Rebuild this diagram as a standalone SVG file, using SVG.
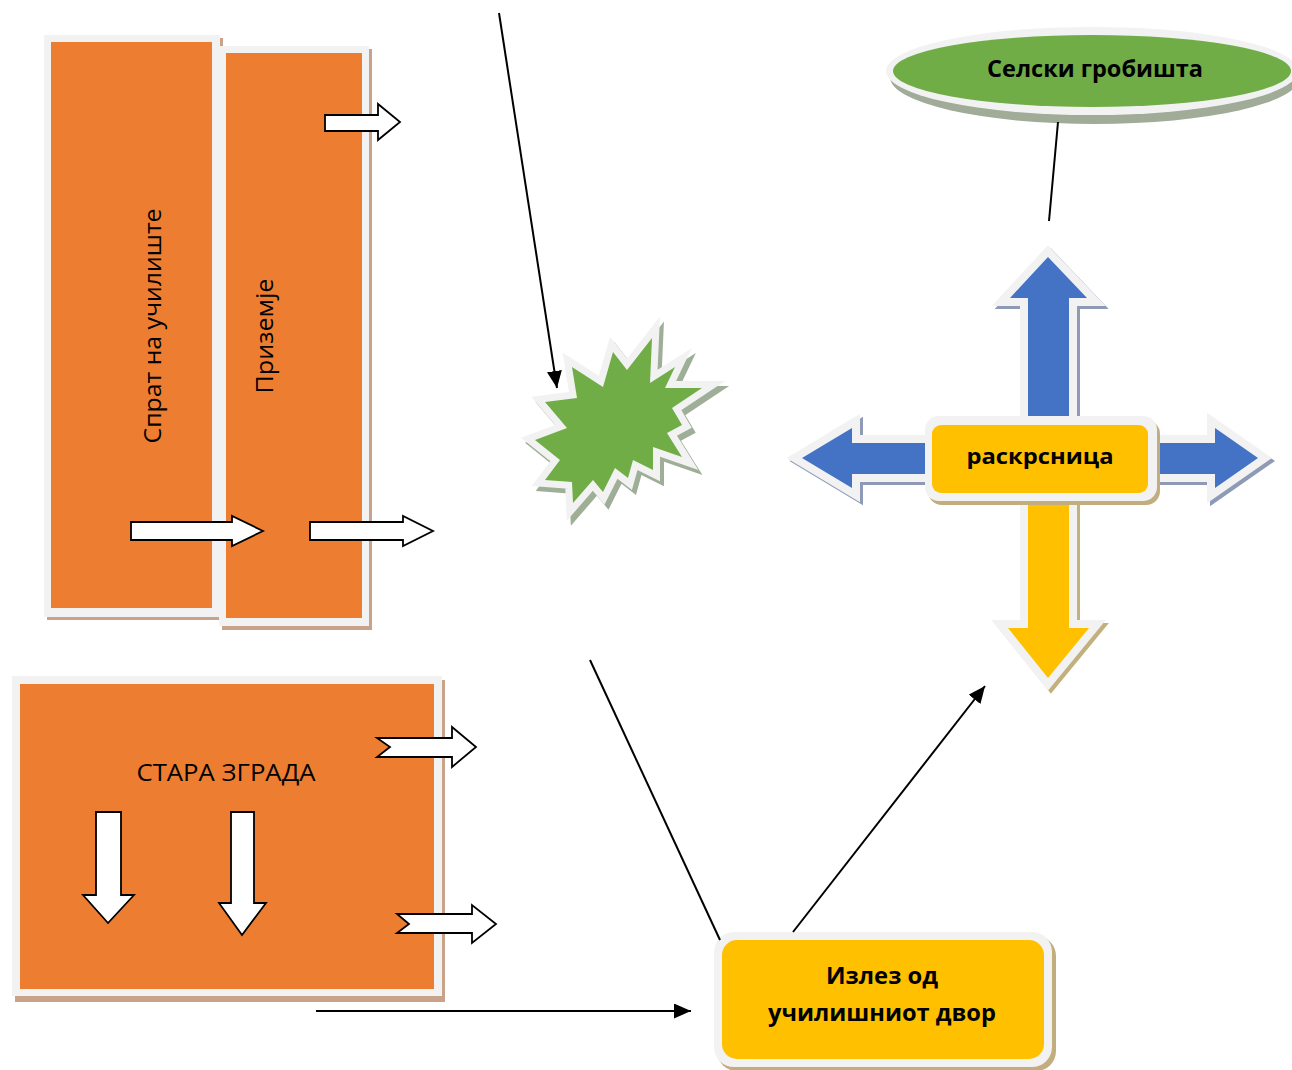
<svg xmlns="http://www.w3.org/2000/svg" width="1292" height="1070" viewBox="0 0 1292 1070">
<defs>
<style>
.bd{fill:#f2f2f2}
.or{fill:#ed7d31}
.osh{fill:#c9a28a}
.wa{fill:#ffffff;stroke:#000000;stroke-width:1.8;stroke-linejoin:miter}
.t{font-family:"Open Sans","Noto Sans","Liberation Sans",sans-serif;fill:#000000}
.b{font-weight:bold}
.ln{stroke:#000000;stroke-width:2;fill:none}
.blue{fill:#4472c4}
.yel{fill:#ffc000}
.brd{fill:none;stroke:#f2f2f2;stroke-width:16;stroke-linejoin:miter;stroke-miterlimit:10}
</style>
<marker id="ah" markerUnits="userSpaceOnUse" markerWidth="17" markerHeight="15" refX="17" refY="7.5" orient="auto" viewBox="0 0 17 15">
<path d="M0,0 L17,7.5 L0,15 z" fill="#000000"/>
</marker>
</defs>

<g id="sprat">
<rect class="osh" x="47" y="38" width="176" height="582"/>
<rect class="bd" x="44" y="35" width="176" height="582"/>
<rect class="or" x="51" y="42" width="161" height="566"/>
<text class="t" transform="translate(161,326) rotate(-90)" text-anchor="middle" font-size="24" textLength="235" lengthAdjust="spacingAndGlyphs">Спрат на училиште</text>
</g>

<g id="prizemje">
<rect class="osh" x="222" y="49" width="150" height="581"/>
<rect class="bd" x="219" y="46" width="150" height="580"/>
<rect class="or" x="226" y="53" width="136" height="565"/>
<text class="t" transform="translate(273,336) rotate(-90)" text-anchor="middle" font-size="24" textLength="115" lengthAdjust="spacingAndGlyphs">Приземје</text>
</g>

<g id="arrows-upper">
<polygon class="wa" points="325,115 378,115 378,104 400,122 378,140 378,131 325,131"/>
<polygon class="wa" points="131,522 232,522 232,516 263,531 232,546 232,540 131,540"/>
<polygon class="wa" points="310,522 403,522 403,516 433,531 403,546 403,540 310,540"/>
</g>

<g id="stara">
<rect class="osh" x="15" y="680" width="430" height="322"/>
<rect class="bd" x="12" y="676" width="430" height="320"/>
<rect class="or" x="20" y="684" width="414" height="305"/>
<text class="t" x="226" y="781" text-anchor="middle" font-size="23" textLength="179" lengthAdjust="spacingAndGlyphs">СТАРА ЗГРАДА</text>
<polygon class="wa" points="96,812 121,812 121,895 134,895 108,923 83,895 96,895"/>
<polygon class="wa" points="231,812 254,812 254,903 266,903 242,935 219,903 231,903"/>
<polygon class="wa" points="377,738 452,738 452,727 476,747 452,767 452,757 377,757 390,747"/>
<polygon class="wa" points="397,914 472,914 472,905 496,924 472,943 472,933 397,933 409,924"/>
</g>

<g id="star">
<polygon transform="translate(4,5)" points="572,367 603,387 613,352 627,370 652,338 650,383 675,367 665,388 702,388 672,408 682,425 667,433 682,457 653,447 653,470 633,460 628,478 615,468 603,492 593,480 573,503 572,482 545,480 560,460 535,440 567,428 545,402 577,398" fill="#9fae97" stroke="#9fae97" stroke-width="14" stroke-linejoin="miter" stroke-miterlimit="10"/>
<polygon points="572,367 603,387 613,352 627,370 652,338 650,383 675,367 665,388 702,388 672,408 682,425 667,433 682,457 653,447 653,470 633,460 628,478 615,468 603,492 593,480 573,503 572,482 545,480 560,460 535,440 567,428 545,402 577,398" fill="#f2f2f2" stroke="#f2f2f2" stroke-width="14" stroke-linejoin="miter" stroke-miterlimit="10"/>
<polygon points="572,367 603,387 613,352 627,370 652,338 650,383 675,367 665,388 702,388 672,408 682,425 667,433 682,457 653,447 653,470 633,460 628,478 615,468 603,492 593,480 573,503 572,482 545,480 560,460 535,440 567,428 545,402 577,398" fill="#70ad47"/>
</g>

<g id="cross">
<g transform="translate(3,3)" stroke-width="16" stroke-linejoin="miter" stroke-miterlimit="10">
<polygon points="1048,257 1087,298 1069,298 1069,430 1028,430 1028,298 1010,298" fill="#8e9ab6" stroke="#8e9ab6"/>
<polygon points="802,458 852,428 852,443 935,443 935,474 852,474 852,488" fill="#8e9ab6" stroke="#8e9ab6"/>
<polygon points="1258,458 1215,428 1215,443 1145,443 1145,474 1215,474 1215,488" fill="#8e9ab6" stroke="#8e9ab6"/>
<polygon points="1048,678 1089,628 1069,628 1069,490 1028,490 1028,628 1008,628" fill="#c3b07f" stroke="#c3b07f"/>
</g>
<polygon class="brd" points="1048,257 1087,298 1069,298 1069,430 1028,430 1028,298 1010,298"/>
<polygon class="brd" points="802,458 852,428 852,443 935,443 935,474 852,474 852,488"/>
<polygon class="brd" points="1258,458 1215,428 1215,443 1145,443 1145,474 1215,474 1215,488"/>
<polygon class="brd" points="1048,678 1089,628 1069,628 1069,490 1028,490 1028,628 1008,628"/>
<polygon class="blue" points="1048,257 1087,298 1069,298 1069,430 1028,430 1028,298 1010,298"/>
<polygon class="blue" points="802,458 852,428 852,443 935,443 935,474 852,474 852,488"/>
<polygon class="blue" points="1258,458 1215,428 1215,443 1145,443 1145,474 1215,474 1215,488"/>
<polygon class="yel" points="1048,678 1089,628 1069,628 1069,490 1028,490 1028,628 1008,628"/>
</g>

<g id="raskrsnica">
<rect x="928" y="420" width="232" height="85" rx="14" fill="#c2ad7f"/>
<rect class="bd" x="925" y="416" width="232" height="85" rx="14"/>
<rect class="yel" x="932" y="425" width="216" height="68" rx="9"/>
<text class="t b" x="1040" y="464" text-anchor="middle" font-size="22" textLength="147" lengthAdjust="spacingAndGlyphs">раскрсница</text>
</g>

<g id="grobista">
<ellipse cx="1095" cy="77" rx="205" ry="47" fill="#a0ab98"/>
<ellipse class="bd" cx="1092" cy="71" rx="206" ry="44"/>
<ellipse cx="1092" cy="71" rx="199" ry="36" fill="#70ad47"/>
<text class="t b" x="1095" y="77" text-anchor="middle" font-size="23" textLength="216" lengthAdjust="spacingAndGlyphs">Селски гробишта</text>
</g>

<g id="izlez">
<rect x="717" y="936" width="339" height="135" rx="20" fill="#c2ad7f"/>
<rect class="bd" x="714" y="932" width="338" height="135" rx="20"/>
<rect class="yel" x="722" y="940" width="322" height="119" rx="15"/>
<text class="t b" x="882" y="984" text-anchor="middle" font-size="23" textLength="112" lengthAdjust="spacingAndGlyphs">Излез од</text>
<text class="t b" x="882" y="1021" text-anchor="middle" font-size="23" textLength="228" lengthAdjust="spacingAndGlyphs">училишниот двор</text>
</g>

<g id="connectors">
<line class="ln" x1="499" y1="13" x2="557" y2="388" marker-end="url(#ah)"/>
<line class="ln" x1="590" y1="660" x2="720" y2="940"/>
<line class="ln" x1="793" y1="932" x2="985" y2="686" marker-end="url(#ah)"/>
<line class="ln" x1="316" y1="1011" x2="691" y2="1011" marker-end="url(#ah)"/>
<line class="ln" x1="1058" y1="122" x2="1049" y2="221"/>
</g>
</svg>
